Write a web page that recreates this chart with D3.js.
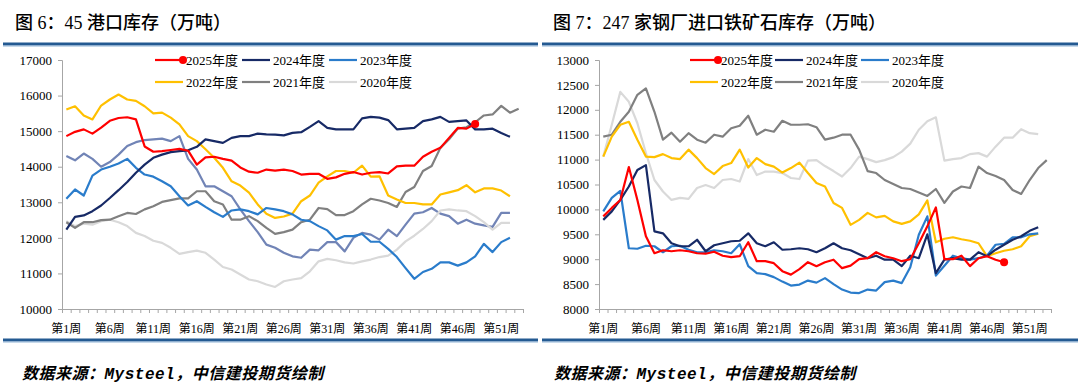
<!DOCTYPE html>
<html>
<head>
<meta charset="utf-8">
<script src="https://cdn.jsdelivr.net/npm/d3@7"></script>
<style>
  body { margin: 0; background: #fff; }
  svg { display: block; }
  text { font-family: "Liberation Serif", "Noto Sans CJK SC", serif; fill: #000; }
</style>
</head>
<body>
<script>
"use strict";

/*
  Categories and tick labels
*/
var weeks = d3.range(1, 54).map(function (w) { return "第" + w + "周"; });
var weekLabels = ["第1周", "第6周", "第11周", "第16周", "第21周", "第26周",
                  "第31周", "第36周", "第41周", "第46周", "第51周"];
var yearNames = ["2025年度", "2024年度", "2023年度", "2022年度", "2021年度", "2020年度"];
var portTicks = [10000, 11000, 12000, 13000, 14000, 15000, 16000, 17000];
var millTicks = [8000, 8500, 9000, 9500, 10000, 10500, 11000, 11500, 12000, 12500, 13000];

/*
  图6: 45港口库存 (万吨)
*/
var port2025 = [14860, 14980, 15050, 14930, 15100, 15290, 15370, 15390, 15330, 14570,
                14420, 14440, 14470, 14500, 14450, 14060, 14260, 14280, 14220, 14170,
                13980, 13860, 13830, 13920, 13890, 13920, 13880, 13780, 13800, 13800,
                13660, 13700, 13800, 13850, 13780, 13830, 13850, 13810, 14010, 14030,
                14030, 14280, 14420, 14530, 14810, 15090, 15070, 15200];
var port2024 = [12230, 12590, 12630, 12750, 12910, 13120, 13340, 13570, 13830, 14060,
                14250, 14340, 14410, 14440, 14460, 14560, 14770, 14720, 14670, 14810,
                14860, 14860, 14930, 14910, 14900, 14880, 14950, 14970, 15120, 15280,
                15090, 15050, 15050, 15050, 15360, 15400, 15380, 15310, 15050, 15070,
                15090, 15280, 15330, 15400, 15260, 15280, 15300, 15050, 15050, 15070,
                14950, 14840];
var port2023 = [13100, 13360, 13190, 13750, 13920, 14000, 14090, 14220, 13970, 13780,
                13720, 13590, 13450, 13170, 12910, 13030, 12870, 12720, 12590, 12770,
                12800, 12750, 12660, 12840, 12800, 12750, 12660, 12510, 12470, 12330,
                12210, 11950, 12050, 12050, 12110, 11890, 11890, 11690, 11460, 11150,
                10850, 11040, 11130, 11310, 11310, 11220, 11310, 11480, 11830, 11600,
                11880, 12000];
var port2022 = [15610, 15700, 15440, 15330, 15720, 15890, 16030, 15890, 15850, 15700,
                15500, 15520, 15380, 15190, 14860, 14720, 14490, 14250, 13970, 13590,
                13470, 13270, 12940, 12680, 12560, 12600, 12680, 13030, 13190, 13550,
                13730, 13880, 13880, 13830, 14030, 13720, 13730, 13190, 13080, 12980,
                12980, 12940, 12940, 13220, 13280, 13340, 13480, 13280, 13390, 13390,
                13330, 13170];
var port2021 = [12440, 12280, 12440, 12440, 12500, 12510, 12610, 12700, 12670, 12800,
                12890, 13010, 13060, 13110, 13110, 13310, 13310, 13030, 12940, 12510,
                12510, 12610, 12470, 12280, 12110, 12160, 12230, 12440, 12510, 12840,
                12810, 12640, 12640, 12750, 12940, 13100, 13050, 12980, 12870, 13290,
                13430, 13880, 14020, 14530, 14770, 15070, 15110, 15250, 15440, 15470,
                15710, 15520, 15630];
var port2020 = [12470, 12330, 12400, 12370, 12470, 12510, 12440, 12330, 12140, 12050,
                11920, 11860, 11720, 11550, 11600, 11640, 11580, 11390, 11180, 11110,
                10970, 10830, 10780, 10690, 10620, 10780, 10830, 10870, 11060, 11340,
                11410, 11370, 11310, 11280, 11340, 11390, 11460, 11500, 11670, 11900,
                12060, 12250, 12470, 12770, 12800, 12770, 12750, 12610, 12440, 12230,
                12420, 12420];
// seventh line with no legend entry
var port2019 = [14300, 14180, 14370, 14220, 14000, 14130, 14340, 14580, 14690, 14750,
                14770, 14790, 14720, 14860, 14220, 13920, 13450, 13450, 13310, 13170,
                12800, 12470, 12160, 11810, 11720, 11580, 11480, 11440, 11670, 11650,
                11880, 11880, 11620, 12000, 12140, 12090, 11950, 12230, 12050, 12370,
                12680, 12720, 12840, 12680, 12610, 12400, 12510, 12400, 12350, 12310,
                12700, 12700];

/*
  图7: 247家钢厂进口铁矿石库存 (万吨)
*/
var mill2025 = [9860, 10030, 10190, 10850, 10190, 9460, 9120, 9180, 9160, 9180,
                9160, 9120, 9110, 9150, 9070, 9040, 9060, 9340, 8960, 8960,
                8920, 8760, 8690, 8800, 8940, 8860, 8940, 8990, 8820, 8870,
                9000, 9020, 9140, 9060, 9020, 8960, 9000, 9320, 9660, 10040,
                9000, 9000, 9070, 8860, 9020, 9060, 8990, 8940];
var mill2024 = [9790, 9960, 10190, 10460, 10790, 10890, 9560, 9520, 9320, 9260,
                9260, 9390, 9160, 9280, 9320, 9360, 9370, 9520, 9320, 9260,
                9340, 9190, 9200, 9220, 9200, 9140, 9220, 9320, 9220, 9180,
                9100, 9020, 9070, 8990, 8990, 8860, 9070, 9020, 9500, 8720,
                8990, 9020, 8990, 8990, 9140, 9060, 9190, 9290, 9390, 9460,
                9570, 9640];
var mill2023 = [9960, 10230, 10370, 9220, 9210, 9270, 9260, 9140, 9260, 9270,
                9190, 9140, 9140, 9180, 9160, 9120, 9300, 8860, 8720, 8700,
                8640, 8550, 8470, 8490, 8570, 8530, 8620, 8500, 8390, 8330,
                8320, 8390, 8370, 8540, 8570, 8520, 8840, 9490, 9860, 8670,
                8870, 9070, 9020, 8990, 9020, 9070, 9290, 9310, 9440, 9440,
                9500, 9520];
var mill2022 = [11060, 11460, 11700, 11760, 11400, 11060, 11050, 11110, 11030, 11010,
                11200, 11030, 10830, 10710, 10870, 10930, 11200, 10840, 11030, 10910,
                10860, 10740, 10830, 10940, 10730, 10530, 10460, 10130, 10030, 9690,
                9790, 9930, 9840, 9870, 9760, 9710, 9760, 9900, 10180, 9340,
                9410, 9440, 9400, 9370, 9320, 9060, 9120, 9170, 9200, 9260,
                9460, 9510];
var mill2021 = [11460, 11500, 11760, 11960, 12300, 12430, 11960, 11400, 11540, 11360,
                11530, 11400, 11340, 11500, 11460, 11630, 11680, 11880, 11500, 11600,
                11560, 11780, 11700, 11700, 11710, 11650, 11400, 11440, 11500, 11500,
                11200, 10770, 10730, 10590, 10510, 10430, 10410, 10340, 10270, 10410,
                10130, 10360, 10460, 10430, 10860, 10730, 10670, 10590, 10390, 10310,
                10590, 10830, 10990];
var mill2020 = [11060, 11700, 12360, 12160, 11730, 11130, 10590, 10360, 10190, 10230,
                10210, 10430, 10490, 10430, 10590, 10610, 10560, 11010, 10690, 10760,
                10760, 10730, 10630, 10610, 10980, 10990, 10870, 10770, 10660, 10830,
                11060, 11010, 10950, 10990, 11050, 11160, 11320, 11600, 11770, 11850,
                10980, 11010, 11030, 11110, 11130, 11060, 11260, 11440, 11440, 11610,
                11530, 11510];

var colors = ["#ff0000", "#172a66", "#2a7ccb", "#ffc000", "#808080", "#d9d9d9"];
var extraColor = "#7184b6";

var svg = d3.select("body")
  .append("svg")
    .attr("width", 1080)
    .attr("height", 386);

svg.append("rect")
    .attr("width", 1080)
    .attr("height", 386)
    .attr("fill", "#fff");

function drawPanel(opt) {
  var g = svg.append("g");

  // title, rules and source line
  g.append("text")
      .attr("x", opt.titleX)
      .attr("y", 29)
      .style("font-size", "18px")
      .style("font-family", "'Liberation Serif','Noto Sans CJK SC',serif")
      .style("font-weight", "500")
      .text(opt.title);

  [44, 340].forEach(function (ry) {
    g.append("line")
        .attr("x1", opt.ruleX[0]).attr("x2", opt.ruleX[1])
        .attr("y1", ry).attr("y2", ry)
        .attr("stroke", "#245a92")
        .attr("stroke-width", 3);
    g.append("line")
        .attr("x1", opt.ruleX[0]).attr("x2", opt.ruleX[1])
        .attr("y1", ry + 2).attr("y2", ry + 2)
        .attr("stroke", "#8fb3d6")
        .attr("stroke-width", 1);
  });

  g.append("text")
      .attr("x", opt.sourceX)
      .attr("y", 379)
      .style("font-size", "16px")
      .style("font-style", "italic")
      .style("font-weight", "bold")
      .style("letter-spacing", "0.5px")
      .style("font-family", "'Liberation Mono','Noto Sans CJK SC',monospace")
      .text("数据来源：Mysteel，中信建投期货绘制");

  // scales
  var x = d3.scaleBand().domain(weeks).range([opt.left, opt.right]);
  var xEdge = d3.scaleLinear().domain([0, weeks.length]).range([opt.left, opt.right]);
  var y = d3.scaleLinear().domain(d3.extent(opt.ticks)).range([309, 60]);

  var yAxis = g.append("g")
      .attr("transform", "translate(" + opt.left + ",0)")
      .call(d3.axisLeft(y).tickValues(opt.ticks).tickSize(4).tickPadding(6)
        .tickFormat(d3.format("d")));
  yAxis.selectAll("text").style("font-size", "13px");

  var xTicks = g.append("g")
      .attr("transform", "translate(0,309)")
      .call(d3.axisBottom(xEdge).tickValues(d3.range(0, weeks.length + 1))
        .tickSize(4).tickFormat(""));

  var xAxis = g.append("g")
      .attr("transform", "translate(0,309)")
      .call(d3.axisBottom(x).tickValues(weekLabels).tickSize(0).tickPadding(15));
  xAxis.select(".domain").remove();
  xAxis.selectAll("text").style("font-size", "12px");

  [yAxis, xTicks].forEach(function (a) {
    a.selectAll("path, line").attr("stroke", "#a6a6a6");
  });

  // lines, oldest first so 2025 sits on top
  var line = d3.line()
      .x(function (d, i) { return x(weeks[i]) + x.bandwidth() / 2; })
      .y(function (d) { return y(d); });

  var order = opt.series.map(function (s, i) { return i; }).reverse();
  order.forEach(function (i) {
    g.append("path")
        .datum(opt.series[i])
        .attr("fill", "none")
        .attr("stroke", opt.colors[i])
        .attr("stroke-width", 2.2)
        .attr("stroke-linejoin", "round")
        .attr("d", line);
  });

  var latest = opt.series[0];
  g.append("circle")
      .attr("cx", x(weeks[latest.length - 1]) + x.bandwidth() / 2)
      .attr("cy", y(latest[latest.length - 1]))
      .attr("r", 4)
      .attr("fill", colors[0]);

  // legend
  yearNames.forEach(function (name, i) {
    var lx = opt.legendX[i % 3],
        ly = i < 3 ? 60 : 82;
    g.append("line")
        .attr("x1", lx).attr("x2", lx + 28)
        .attr("y1", ly).attr("y2", ly)
        .attr("stroke", colors[i])
        .attr("stroke-width", 2.2);
    if (i === 0) {
      g.append("circle")
          .attr("cx", lx + 28).attr("cy", ly)
          .attr("r", 4)
          .attr("fill", colors[0]);
    }
    g.append("text")
        .attr("x", lx + 31)
        .attr("y", ly)
        .attr("dy", "0.35em")
        .style("font-size", "13px")
        .text(name);
  });
}

drawPanel({
  title: "图 6：45 港口库存（万吨）",
  titleX: 15,
  sourceX: 22,
  ruleX: [3, 538],
  left: 62,
  right: 523,
  ticks: portTicks,
  series: [port2025, port2024, port2023, port2022, port2021, port2020, port2019],
  colors: colors.concat([extraColor]),
  legendX: [155, 242, 329]
});

drawPanel({
  title: "图 7：247 家钢厂进口铁矿石库存（万吨）",
  titleX: 553,
  sourceX: 554,
  ruleX: [542, 1078],
  left: 599,
  right: 1051,
  ticks: millTicks,
  series: [mill2025, mill2024, mill2023, mill2022, mill2021, mill2020],
  colors: colors,
  legendX: [690, 775, 861]
});
</script>
</body>
</html>
